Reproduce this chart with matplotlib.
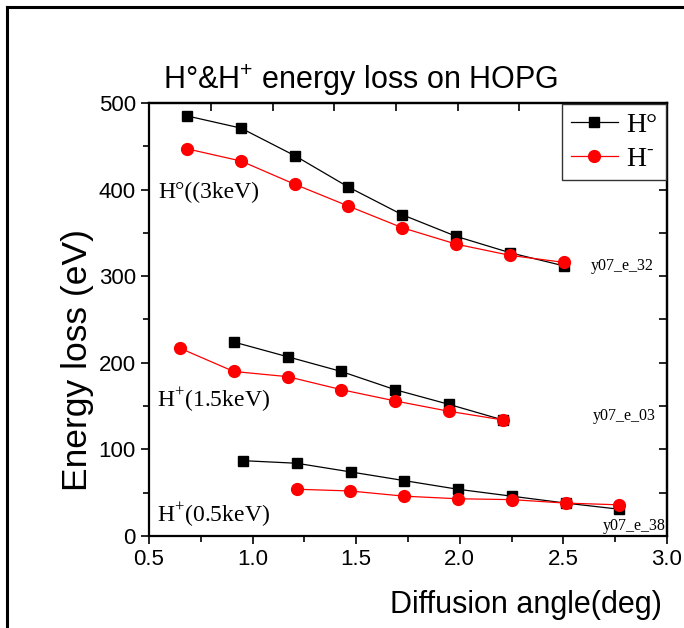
#Energy loss vs diffusion angle for H° and H- on HOPG

import matplotlib
matplotlib.use("Agg")
import matplotlib.pyplot as plt
from matplotlib.lines import Line2D

plt.rcParams["font.family"] = "Liberation Sans"
plt.rcParams["mathtext.fontset"] = "custom"
plt.rcParams["mathtext.rm"] = "Liberation Serif"
plt.rcParams["mathtext.sf"] = "Liberation Sans"

#data
# 3 keV
x_3kev = [0.685, 0.944, 1.205, 1.462, 1.722, 1.983, 2.244, 2.501]
h0_3kev = [485, 471, 439, 403, 371, 346, 327, 312]
hm_3kev = [447, 433, 406, 381, 356, 337, 324, 316]

# 1.5 keV
x_15_h0 = [0.909, 1.169, 1.428, 1.687, 1.948, 2.208]
h0_15kev = [224, 207, 190, 169, 152, 134]
x_15_hm = [0.648, 0.909, 1.169, 1.428, 1.687, 1.948, 2.208]
hm_15kev = [217, 190, 184, 169, 156, 144, 134]

# 0.5 keV
x_05_h0 = [0.952, 1.213, 1.473, 1.731, 1.990, 2.250, 2.511, 2.767]
h0_05kev = [87, 84, 74, 64, 54, 46, 38, 31]
x_05_hm = [1.213, 1.470, 1.731, 1.990, 2.250, 2.511, 2.767]
hm_05kev = [54, 52, 46, 43, 42, 38, 36]

x_ticks = [0.5, 1.0, 1.5, 2.0, 2.5, 3.0]
y_ticks = [0, 100, 200, 300, 400, 500]
top_ticks = [0.798, 1.097, 1.394, 1.692, 1.990, 2.287]

fig = plt.figure(figsize=(6.84, 6.28), dpi=100)
ax = fig.add_axes([0.2178, 0.1465, 0.7573, 0.6895])

sq = dict(color="black", marker="s", markersize=7, linewidth=0.9)
ci = dict(color="red", marker="o", markersize=8.5, linewidth=0.9)

ax.plot(x_3kev, h0_3kev, label="H°", **sq)
ax.plot(x_3kev, hm_3kev, label="H$^{\\text{-}}$", **ci)
ax.plot(x_15_h0, h0_15kev, **sq)
ax.plot(x_15_hm, hm_15kev, **ci)
ax.plot(x_05_h0, h0_05kev, **sq)
ax.plot(x_05_hm, hm_05kev, **ci)

ax.set_xlim(0.5, 3.0)
ax.set_ylim(0, 500)
ax.set_xticks(x_ticks)
ax.set_xticklabels([f"{t:.1f}" for t in x_ticks])
ax.set_xticks([0.75, 1.25, 1.75, 2.25, 2.75], minor=True)
ax.set_yticks(y_ticks)
ax.set_yticks([50, 150, 250, 350, 450], minor=True)
ax.tick_params(which="major", direction="out", length=6, width=1.2, labelsize=16,
               top=False, right=False)
ax.tick_params(which="minor", direction="out", length=4, width=1.2,
               top=False, right=False)
for s in ax.spines.values():
    s.set_linewidth(1.6)

#top and right ticks point inward on their own spacing
sec_top = ax.secondary_xaxis("top")
sec_top.set_xticks(top_ticks)
sec_top.tick_params(direction="in", length=6, width=1.2, labeltop=False)
sec_top.spines["top"].set_linewidth(1.6)
sec_right = ax.secondary_yaxis("right")
sec_right.set_yticks([50, 100, 150, 200, 250, 300, 350, 400, 450])
sec_right.tick_params(direction="in", length=6, width=1.2, labelright=False)
sec_right.spines["right"].set_linewidth(1.6)

fig.text(0.114, 0.427, "Energy loss (eV)", fontsize=25.5, rotation=90,
         ha="center", va="center")
fig.text(0.968, 0.037, "Diffusion angle(deg)", fontsize=22, ha="right", va="center")
fig.text(0.238, 0.872, "H°&H$^{\\mathsf{+}}$ energy loss on HOPG", fontsize=22,
         ha="left", va="center")

serif = "Liberation Serif"
ax.text(0.543, 397, "H°((3keV)", fontsize=17, family=serif, va="center")
ax.text(0.538, 157, "H$^{+}$(1.5keV)", fontsize=17, family=serif, va="center")
ax.text(0.538, 25, "H$^{+}$(0.5keV)", fontsize=17, family=serif, va="center")
ax.text(2.632, 312, "y07_e_32", fontsize=11.5, family=serif, va="center")
ax.text(2.643, 138, "y07_e_03", fontsize=11.5, family=serif, va="center")
ax.text(2.692, 11, "y07_e_38", fontsize=11.5, family=serif, va="center")

leg = ax.legend(loc="upper right", fancybox=False, framealpha=1, edgecolor="#333333",
                borderaxespad=0.05, prop={"family": serif, "size": 20},
                handlelength=1.7, labelspacing=0.3, handletextpad=0.3,
                borderpad=0.3)
leg.get_frame().set_linewidth(1.0)
leg.set_zorder(10)

#frame lines around the picture (left and top only)
fig.add_artist(Line2D([0.0098, 0.0098], [0.0, 0.9893], color="black", linewidth=2.2,
                      transform=fig.transFigure))
fig.add_artist(Line2D([0.0098, 1.0], [0.9893, 0.9893], color="black", linewidth=2.2,
                      transform=fig.transFigure))

plt.savefig("out.png", dpi=100)
plt.close()
